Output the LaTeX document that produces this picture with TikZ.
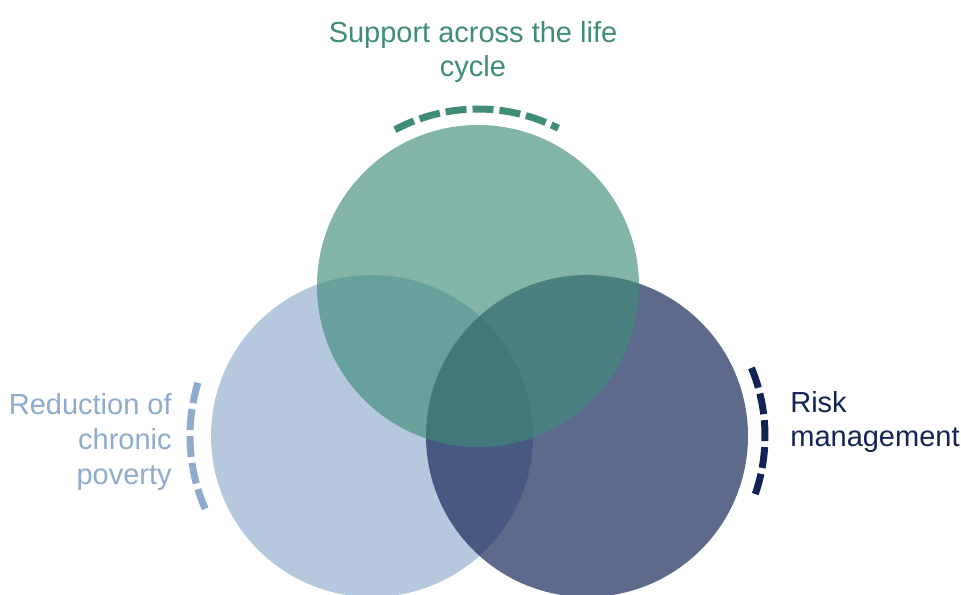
\documentclass[tikz,border=0pt]{standalone}
\usepackage{fontspec}
\setmainfont{Liberation Sans}
\usetikzlibrary{positioning}
\usetikzlibrary{calc}
\definecolor{lifegreen}{HTML}{3F8C79}
\definecolor{povblue}{HTML}{8EAACC}
\definecolor{risknavy}{HTML}{122456}

\begin{document}
\begin{tikzpicture}[
	venn/.style = {circle, inner sep=0pt, minimum size=6.44cm, fill opacity=0.65},
	lab/.style = {inner sep=0pt, font=\fontsize{16.5}{19.8}\selectfont},
	rim/.style = {line width=0.14cm, dash pattern=on 0.42cm off 0.12cm}]
		\useasboundingbox (0,0) rectangle (19.22,-11.88);
		\clip (0,0) rectangle (19.22,-11.88);
		\node[venn, fill = povblue] at (7.44,-8.72) (pov) {};
		\node[venn, fill = risknavy, fill opacity = 0.68] at (11.74,-8.72) (risk) {};
		\node[venn, fill = lifegreen] at (9.56,-5.72) (life) {};
		\draw[rim, lifegreen] ([shift={(118:3.54)}]life.center) arc[start angle=118, end angle=63, radius=3.54];
		\draw[rim, povblue] ([shift={(163:3.64)}]pov.center) arc[start angle=163, end angle=204, radius=3.64];
		\draw[rim, risknavy] ([shift={(22.5:3.56)}]risk.center) arc[start angle=22.5, end angle=-20, radius=3.56];
		\node[lab, text = lifegreen, align = center] at (9.46,-1.04) (lifetxt) {Support across the life\\cycle};
		\node[lab, text = povblue, align = right, anchor = east] at (3.44,-8.84) (povtxt) {Reduction of\\chronic\\poverty};
		\node[lab, text = risknavy, align = left, anchor = west] at (15.8,-8.44) (risktxt) {Risk\\management};
\end{tikzpicture}
\end{document}
